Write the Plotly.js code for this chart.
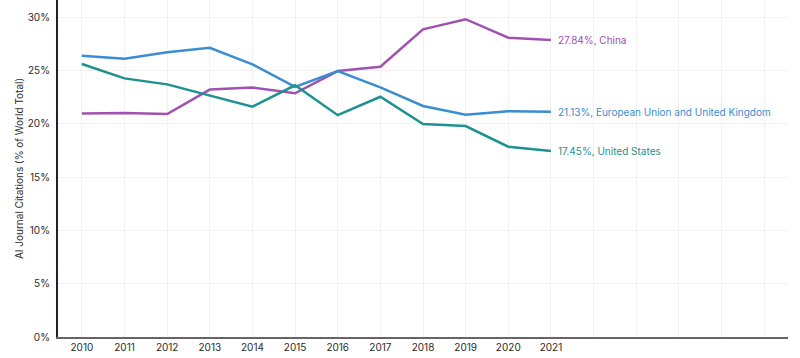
<!DOCTYPE html>
<html>
<head>
<meta charset="utf-8">
<script src="https://cdn.plot.ly/plotly-3.0.1.min.js"></script>
<style>html,body{margin:0;padding:0;background:#fff;}#chart{width:800px;height:358px;}</style>
</head>
<body>
<div id="chart"></div>
<script>
var years = [2010, 2011, 2012, 2013, 2014, 2015, 2016, 2017, 2018, 2019, 2020, 2021];
var china = [20.95, 21.0, 20.9, 23.2, 23.4, 22.85, 24.94, 25.34, 28.85, 29.8, 28.06, 27.84];
var euuk = [26.37, 26.1, 26.7, 27.12, 25.57, 23.45, 24.94, 23.4, 21.66, 20.84, 21.16, 21.13];
var us = [25.6, 24.25, 23.69, 22.62, 21.6, 23.6, 20.8, 22.53, 19.97, 19.78, 17.84, 17.45];
var seriesNames = ["China", "European Union and United Kingdom", "United States"];
var seriesColors = ["#a052b0", "#3a8dd0", "#1e9190"];
var gridYears = [2010,2011,2012,2013,2014,2015,2016,2017,2018,2019,2020,2021,2022,2023,2024,2025,2026];
var yTicks = [0, 5, 10, 15, 20, 25, 30];

var allSeries = [china, euuk, us];
var traces = allSeries.map(function(vals, i){
  return {x: years, y: vals, type: 'scatter', mode: 'lines', name: seriesNames[i],
    line: {color: seriesColors[i], width: 2.5}, hoverinfo: 'x+y'};
});
var annotations = allSeries.map(function(vals, i){
  var last = vals[vals.length-1];
  return {x: years[years.length-1], y: last, text: last.toFixed(2) + '%, ' + seriesNames[i],
    showarrow: false, xanchor: 'left', xshift: 5, font: {size: 10, color: seriesColors[i], family: 'Inter, sans-serif'}};
});
var layout = {
  width: 800, height: 358,
  margin: {l: 58, r: 12, t: 0, b: 21},
  paper_bgcolor: '#fff', plot_bgcolor: '#fff',
  showlegend: false,
  font: {family: 'Inter, sans-serif', color: '#2b2b2b', size: 10},
  xaxis: {range: [2009.44, 2026.56], tickvals: gridYears,
    ticktext: gridYears.map(function(y){ return y <= 2021 ? String(y) : ''; }),
    showgrid: true, gridcolor: '#f2f2f2', gridwidth: 1, zeroline: false,
    showline: true, linecolor: '#6b6268', linewidth: 2, ticks: '',
    tickfont: {size: 10, color: '#2b2b2b'}, fixedrange: true},
  yaxis: {range: [0, 31.6], tickvals: yTicks, ticktext: yTicks.map(function(v){return v + '%';}),
    showgrid: true, gridcolor: '#f2f2f2', gridwidth: 1, zeroline: false,
    showline: true, linecolor: '#2a1f26', linewidth: 2, ticks: '', ticklabelstandoff: 4,
    title: {text: 'AI Journal Citations (% of World Total)', font: {size: 10, color: '#2b2b2b'}, standoff: 2},
    tickfont: {size: 10, color: '#2b2b2b'}, fixedrange: true},
  annotations: annotations
};
Plotly.newPlot('chart', traces, layout, {displayModeBar: false, staticPlot: true});
</script>
</body>
</html>
